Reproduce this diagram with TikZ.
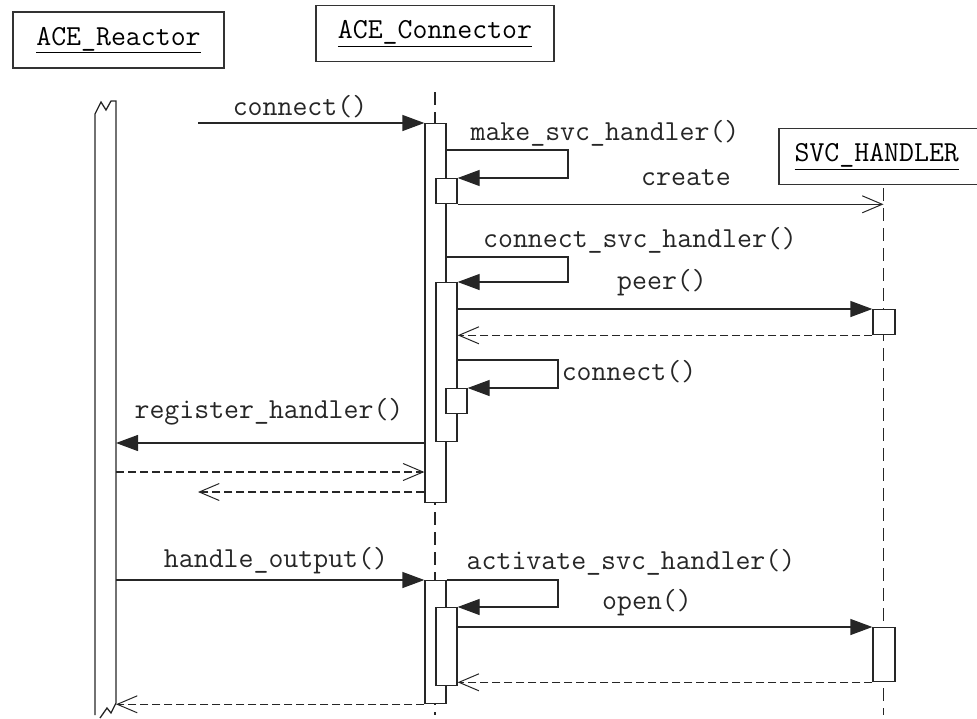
\documentclass[tikz,border=0pt]{standalone}
\usepackage{fontspec}
\usepackage{tikz}
\usetikzlibrary{arrows.meta,positioning,calc}
\tikzset{objbox/.style={
  % The shape:
  rectangle,
  minimum height=56pt,
  % The border:
  line width=1.5pt,
  draw=black!80,
  % Font:
  font=\ttfamily\fontsize{29}{33}\selectfont,
  }
}
\tikzset{actbar/.style={
  % The shape:
  rectangle,
  inner sep=0pt,
  minimum width=21pt,
  anchor=north,
  % The rest
  line width=1.3pt,draw=black!85,fill=white,
  }
}
\tikzset{msg/.style={font=\ttfamily\fontsize{29}{33}\selectfont,text=black!85}}

\begin{document}
\begin{tikzpicture}[x=1pt,y=-1pt,line width=1.3pt,draw=black!85,
    call/.style={-{Triangle[length=22pt,width=16pt]}},
    reply/.style={dash pattern=on 8pt off 4pt,-{Straight Barb[length=20pt,width=17pt,line width=1pt]}},
    make/.style={-{Straight Barb[length=20pt,width=17pt,line width=1pt]}},
    lifeline/.style={dash pattern=on 13pt off 7pt}]
  \useasboundingbox (0,0) rectangle (977,718);

  % Objects:
  \node (reactor) [objbox,minimum width=211pt] at (118.5,40) {\underline{ACE\_Reactor}};
  \node (connector) [objbox,minimum width=238pt] at (435,33.5) {\underline{ACE\_Connector}};
  % (box runs past the right edge)
  \node (handler) [objbox,anchor=west,minimum width=234pt] at (778,156.5)
        {\underline{SVC\_HANDLER}\hspace*{38pt}};

  % Lifelines:
  \coordinate (rR) at (116,0);
  \coordinate (sL) at (883.5,0);
  \draw[lifeline] (connector.south |- 0,92) -- (connector.south |- 0,715);
  \draw[lifeline] (sL |- 0,188) -- (sL |- 0,715);
  \draw (95,715) -- (95,114) -- (101,102) -- (106,110) -- (111,101) -- (116,101)
        -- (116,703) -- (111,713) -- (107,708) -- (100,718);
  \coordinate (cS) at (198,123);
  \coordinate (cE) at (198,492);

  % Activation bars:
  \node (conA) [actbar,minimum height=379pt] at (435.5,123) {};
  \node (mk)   [actbar,minimum height=25pt]  at (446.5,178) {};
  \node (csh)  [actbar,minimum height=159pt] at (446.5,282) {};
  \node (cn)   [actbar,minimum height=25pt]  at (456.5,388) {};
  \node (conB) [actbar,minimum height=123pt] at (435.5,580) {};
  \node (act)  [actbar,minimum height=78pt]  at (446.5,607) {};
  \node (svcA) [actbar,minimum width=22pt,minimum height=25pt] at (884,309) {};
  \node (svcB) [actbar,minimum width=22pt,minimum height=54pt] at (884,627) {};

  % Messages:
  \draw[call] (cS) -- (conA.north west);
  \draw[call] (conA.east |- 0,150) -- (568,150) |- (mk.north east);
  \draw[make] (mk.south east) -- (sL |- mk.south east);
  \draw[call] (conA.east |- 0,257) -- (568,257) |- (csh.north east);
  \draw[call] (csh.east |- svcA.north west) -- (svcA.north west);
  \draw[reply] (svcA.south west) -- (csh.east |- svcA.south west);
  \draw[call] (csh.east |- 0,360) -- (558,360) |- (cn.north east);
  \draw[call] (conA.west |- 0,443) -- (rR |- 0,443);
  \draw[reply] (rR |- 0,472) -- (conA.west |- 0,472);
  \draw[reply] (conA.west |- cE) -- (cE);
  \draw[call] (rR |- conB.north) -- (conB.north west);
  \draw[call] (conB.north east) -- (558,580) |- (act.north east);
  \draw[call] (act.east |- svcB.north west) -- (svcB.north west);
  \draw[reply] (svcB.south west) -- (act.east |- svcB.south west);
  \draw[reply] (conB.south west) -- (rR |- conB.south west);

  % Labels:
  \node (lConnA)  [msg] at (300,107) {connect()};
  \node (lMake)   [msg] at (605,133) {make\_svc\_handler()};
  \node (lCreate) [msg] at (686,178) {create};
  \node (lConnSv) [msg] at (640,240) {connect\_svc\_handler()};
  \node (lPeer)   [msg] at (662,283) {peer()};
  \node (lConnB)  [msg] at (629,372) {connect()};
  \node (lReg)    [msg] at (269,412) {register\_handler()};
  \node (lHandle) [msg] at (276,561) {handle\_output()};
  \node (lAct)    [msg] at (631,562) {activate\_svc\_handler()};
  \node (lOpen)   [msg] at (647,603) {open()};
\end{tikzpicture}
\end{document}
